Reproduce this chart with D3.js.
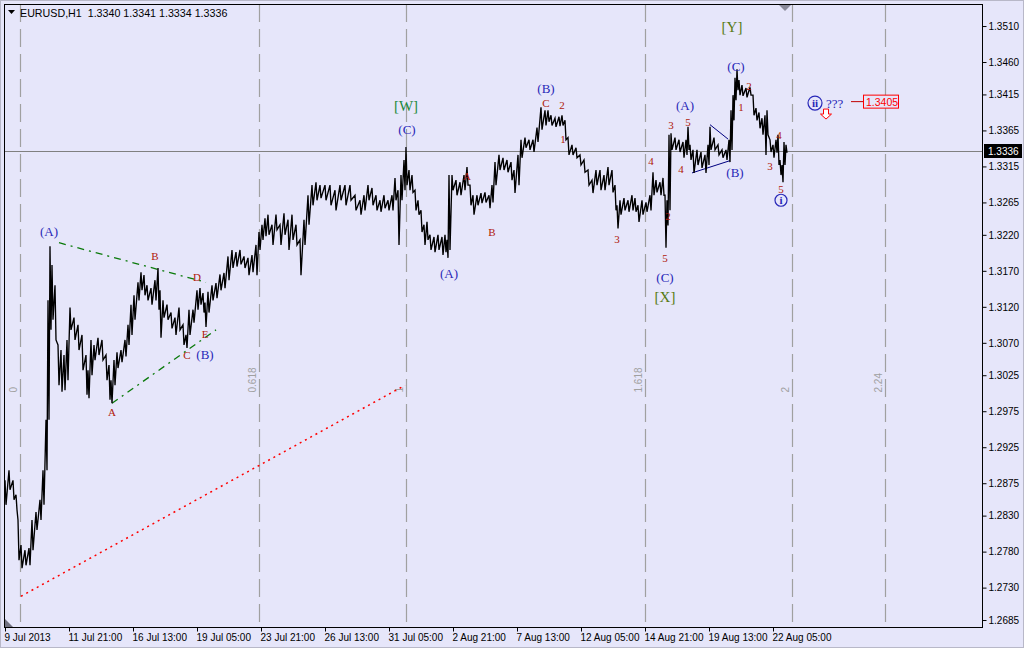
<!DOCTYPE html>
<html><head><meta charset="utf-8">
<script src="https://cdn.jsdelivr.net/npm/d3@7/dist/d3.min.js"></script>
<style>body{margin:0;background:#E6E6FA;}svg{display:block}</style>
</head><body>
<svg id="c" width="1024" height="648"></svg>
<script>
// ---------- DATA ----------
const symbol = "EURUSD,H1";
const headerOHLC = ["1.3340", "1.3341", "1.3334", "1.3336"];
const lastPrice = 1.3336;
const priceTicks = [1.3510,1.3460,1.3415,1.3365,1.3315,1.3265,1.3220,1.3170,1.3120,1.3070,1.3025,1.2975,1.2925,1.2875,1.2830,1.2780,1.2730,1.2685];
const timeTickBars = [0,64,128,192,256,320,384,448,512,576,640,704,768];
const timeTickLabels = ["9 Jul 2013","11 Jul 21:00","16 Jul 13:00","19 Jul 05:00","23 Jul 21:00","26 Jul 13:00","31 Jul 05:00","2 Aug 21:00","7 Aug 13:00","12 Aug 05:00","14 Aug 21:00","19 Aug 13:00","22 Aug 05:00"];

// bar index (H1 bars from 9 Jul 2013 00:00), high, low (sampled)
const barIdx = [0,4,8,11,13,16,20,24,27,31,35,38,41,43,45,
47,50,53,56,59,62,65,69,73,77,81,83,86,89,93,97,101,104,106,109,112,116,120,123,126,129,133,136,139,142,146,150,153,155,158,162,166,170,174,178,181,184,188,192,195,198,200,203,207,211,215,219,223,227,231,235,239,243,247,251,254,
257,260,263,267,271,275,279,283,287,291,295,299,303,307,311,315,320,325,330,335,340,345,350,355,359,363,367,371,375,379,383,387,390,393,396,399,
401,404,407,410,413,416,419,422,425,429,433,437,440,442,444,447,451,455,459,462,465,468,472,476,480,484,487,490,494,498,502,506,509,513,516,520,524,528,532,536,540,543,546,550,554,557,560,563,567,571,575,579,583,587,591,595,
599,603,607,610,612,615,619,623,627,630,633,637,641,645,648,651,655,658,660,662,664,666,670,674,678,681,683,685,688,692,696,700,703,705,709,713,717,721,724,726,728,730,732,734,737,741,745,748,751,754,757,760,762,765,768,771,773,775,777,779,781];
const highs = [1.2879,1.2893,1.2879,1.2859,1.2824,1.2789,1.2782,1.2785,1.2824,1.2835,1.2852,1.2893,1.2963,1.3129,1.3204,
1.3178,1.3150,1.3067,1.3060,1.3053,1.3074,1.3119,1.3105,1.3095,1.3081,1.3053,1.3032,1.3074,1.3067,1.3077,1.3074,1.3053,1.3039,1.3018,1.3046,1.3057,1.3060,1.3074,1.3095,1.3123,1.3136,1.3154,1.3168,1.3164,1.3150,1.3146,1.3157,1.3174,1.3143,1.3129,1.3123,1.3112,1.3105,1.3119,1.3095,1.3081,1.3116,1.3116,1.3143,1.3146,1.3139,1.3126,1.3141,1.3150,1.3153,1.3165,1.3167,1.3190,1.3199,1.3196,1.3199,1.3190,1.3188,1.3192,1.3206,1.3224,
1.3234,1.3243,1.3248,1.3234,1.3248,1.3234,1.3250,1.3241,1.3248,1.3234,1.3213,1.3241,1.3275,1.3289,1.3293,1.3289,1.3289,1.3289,1.3282,1.3289,1.3289,1.3289,1.3275,1.3268,1.3275,1.3289,1.3285,1.3275,1.3268,1.3275,1.3268,1.3275,1.3299,1.3282,1.3303,1.3324,
1.3342,1.3310,1.3303,1.3282,1.3268,1.3254,1.3234,1.3238,1.3220,1.3217,1.3220,1.3217,1.3220,1.3213,1.3303,1.3303,1.3296,1.3293,1.3303,1.3314,1.3289,1.3275,1.3275,1.3278,1.3279,1.3275,1.3289,1.3321,1.3331,1.3327,1.3324,1.3321,1.3310,1.3331,1.3352,1.3355,1.3352,1.3352,1.3369,1.3397,1.3393,1.3393,1.3386,1.3382,1.3384,1.3386,1.3379,1.3355,1.3345,1.3341,1.3331,1.3324,1.3310,1.3296,1.3310,1.3310,
1.3303,1.3314,1.3310,1.3289,1.3261,1.3268,1.3271,1.3268,1.3275,1.3271,1.3261,1.3268,1.3265,1.3275,1.3307,1.3296,1.3293,1.3299,1.3275,1.3268,1.3359,1.3361,1.3355,1.3352,1.3349,1.3352,1.3370,1.3345,1.3338,1.3338,1.3335,1.3331,1.3345,1.3370,1.3355,1.3345,1.3338,1.3338,1.3352,1.3393,1.3414,1.3438,1.3450,1.3435,1.3428,1.3424,1.3425,1.3414,1.3396,1.3390,1.3382,1.3386,1.3393,1.3352,1.3345,1.3352,1.3359,1.3324,1.3317,1.3349,1.3345];
const lows = [1.2845,1.2866,1.2852,1.2838,1.2768,1.2757,1.2761,1.2761,1.2782,1.2810,1.2824,1.2845,1.2893,1.2963,1.3088,
1.3102,1.3074,1.3011,1.3002,1.3004,1.3018,1.3088,1.3074,1.3060,1.3032,1.2998,1.2993,1.3025,1.3046,1.3053,1.3046,1.3018,1.2991,1.2986,1.3011,1.3035,1.3043,1.3051,1.3067,1.3081,1.3102,1.3129,1.3143,1.3136,1.3129,1.3123,1.3129,1.3116,1.3077,1.3105,1.3102,1.3090,1.3081,1.3088,1.3067,1.3063,1.3081,1.3098,1.3116,1.3123,1.3112,1.3092,1.3112,1.3129,1.3132,1.3143,1.3146,1.3157,1.3174,1.3176,1.3179,1.3174,1.3164,1.3168,1.3164,1.3199,
1.3213,1.3218,1.3220,1.3206,1.3227,1.3206,1.3220,1.3199,1.3213,1.3206,1.3164,1.3206,1.3234,1.3261,1.3268,1.3271,1.3268,1.3261,1.3254,1.3268,1.3261,1.3268,1.3254,1.3248,1.3254,1.3268,1.3261,1.3254,1.3252,1.3257,1.3254,1.3254,1.3268,1.3206,1.3268,1.3282,
1.3289,1.3282,1.3279,1.3254,1.3248,1.3224,1.3206,1.3213,1.3199,1.3196,1.3199,1.3192,1.3196,1.3188,1.3199,1.3282,1.3275,1.3275,1.3282,1.3289,1.3261,1.3248,1.3261,1.3264,1.3265,1.3257,1.3265,1.3289,1.3310,1.3310,1.3307,1.3296,1.3278,1.3289,1.3327,1.3341,1.3338,1.3335,1.3349,1.3366,1.3372,1.3377,1.3372,1.3370,1.3371,1.3372,1.3352,1.3331,1.3331,1.3327,1.3317,1.3307,1.3289,1.3278,1.3289,1.3282,
1.3282,1.3289,1.3279,1.3254,1.3229,1.3248,1.3254,1.3252,1.3254,1.3252,1.3238,1.3248,1.3252,1.3254,1.3275,1.3279,1.3275,1.3275,1.3202,1.3233,1.3254,1.3338,1.3338,1.3335,1.3327,1.3331,1.3338,1.3324,1.3306,1.3317,1.3313,1.3306,1.3317,1.3338,1.3338,1.3331,1.3327,1.3324,1.3321,1.3338,1.3379,1.3407,1.3421,1.3414,1.3413,1.3411,1.3414,1.3386,1.3379,1.3368,1.3359,1.3331,1.3359,1.3335,1.3327,1.3334,1.3317,1.3303,1.3293,1.3317,1.3334];

// Fibonacci time zones
const fibRatios = [0, 0.618, 1, 1.618, 2, 2.24];
const fibLabels = ["0", "0.618", "1", "1.618", "2", "2.24"];
const fibBaseBar = 15, fibSpanBars = 386;

// Trend lines [bar1, price1, bar2, price2]
const triangleUpper = [54, 1.3209, 201, 1.3154];
const triangleLower = [107, 1.2986, 211, 1.3088];
const redDotted = [16, 1.2718, 400, 1.3011];
const navyLines = [[687, 1.3306, 725, 1.3323], [705, 1.3373, 723, 1.3353]];

// Wave labels: text, bar, price, kind
const waveText  = ["(A)","B","D","E","C","(B)","A","[W]","(C)","A","B","(A)","(B)","C","2","1","3","4","2","5","(C)","[X]","(A)","3","5","4","(B)","[Y]","(C)","1","2","4","3","5"];
const waveBar   = [44,150,192,200,182,200,107,401,402,462,487,444,541,541,557,558,612,646,663,660,660,660,680,666,683,676,730,727,731,736,744,774,765,776];
const wavePrice = [1.3225,1.3191,1.3161,1.3082,1.3053,1.3054,1.2974,1.3399,1.3366,1.3302,1.3224,1.3167,1.3423,1.3403,1.3400,1.3353,1.3214,1.3323,1.3246,1.3188,1.3161,1.3134,1.3400,1.3372,1.3377,1.3311,1.3307,1.3509,1.3454,1.3397,1.3427,1.3359,1.3316,1.3284];
const waveKind  = ["blue","red","red","red","red","blue","red","w","blue","red","red","blue","blue","red","red","red","red","red","red","red","blue","x","blue","red","red","red","blue","x","blue","red","red","red","red","red"];
const circledText = ["i", "ii"];
const circledBar = [776, 810];
const circledPrice = [1.3268, 1.3403];
const questionText = "???";
const targetPrice = 1.3405;
const targetBar = 810;

// ---------- CHART ----------
const svg = d3.select("#c");
const L = 4, R = 982, T = 4, B = 627;
const x = d3.scaleLinear().domain([-1, 977]).range([L, R]);
const y = d3.scaleLinear().domain([1.26753, 1.35406]).range([B, T]);
const AX = "Liberation Sans, Arial, sans-serif";
const SERIF = "Liberation Serif, Times New Roman, serif";

svg.append("rect").attr("width",1024).attr("height",648).attr("fill","#E6E6FA");
svg.append("rect").attr("x",0.5).attr("y",0.5).attr("width",1023).attr("height",647).attr("fill","none").attr("stroke","#b8b8c8");

// Fib time zones
const fibG = svg.append("g");
fibRatios.forEach((r,i)=>{
  const xb = Math.round(x(fibBaseBar + r*fibSpanBars)) + 0.5;
  fibG.append("line").attr("x1",xb).attr("x2",xb).attr("y1",T).attr("y2",B)
    .attr("stroke","#a0a0a0").attr("stroke-width",1.2).attr("stroke-dasharray","18,7");
  fibG.append("text").attr("transform",`translate(${xb-4},${y(1.3001)}) rotate(-90)`)
    .attr("font-family",AX).attr("font-size",10).attr("fill","#a0a0a0").text(fibLabels[i]);
});

// current price line
svg.append("line").attr("x1",L).attr("x2",R).attr("y1",Math.round(y(lastPrice))+0.5).attr("y2",Math.round(y(lastPrice))+0.5)
  .attr("stroke","#808080").attr("stroke-width",1);

// red dotted line
svg.append("line").attr("x1",x(redDotted[0])).attr("y1",y(redDotted[1])).attr("x2",x(redDotted[2])).attr("y2",y(redDotted[3]))
  .attr("stroke","#ff0000").attr("stroke-width",1.5).attr("stroke-dasharray","2,4");

// triangle lines
[triangleUpper, triangleLower].forEach(t=>{
  svg.append("line").attr("x1",x(t[0])).attr("y1",y(t[1])).attr("x2",x(t[2])).attr("y2",y(t[3]))
    .attr("stroke","#0a7a0a").attr("stroke-width",1.3).attr("stroke-dasharray","7,5,2,5");
});
navyLines.forEach(t=>{
  svg.append("line").attr("x1",x(t[0])).attr("y1",y(t[1])).attr("x2",x(t[2])).attr("y2",y(t[3]))
    .attr("stroke","#000080").attr("stroke-width",1);
});

// price trace
let d = "";
barIdx.forEach((b,i)=>{
  d += (i===0?"M":"L") + x(b) + "," + y(highs[i]) + "L" + (x(b)+1) + "," + y(lows[i]);
});
svg.append("path").attr("d",d).attr("fill","none").attr("stroke","#000").attr("stroke-width",1.35).attr("stroke-linejoin","miter");

// frame / axes
svg.append("line").attr("x1",L).attr("x2",R).attr("y1",T+0.5).attr("y2",T+0.5).attr("stroke","#000");
svg.append("line").attr("x1",L+0.5).attr("x2",L+0.5).attr("y1",T).attr("y2",B).attr("stroke","#000");
svg.append("line").attr("x1",R+0.5).attr("x2",R+0.5).attr("y1",T).attr("y2",B+1).attr("stroke","#000");
svg.append("line").attr("x1",L).attr("x2",R+1).attr("y1",B+0.5).attr("y2",B+0.5).attr("stroke","#000");

// right axis
const yAxis = d3.axisRight(y).tickValues(priceTicks).tickFormat(d3.format(".4f")).tickSize(4).tickPadding(2);
const ya = svg.append("g").attr("transform",`translate(${R+0.5},0)`).call(yAxis);
ya.select(".domain").remove();
ya.selectAll("text").attr("font-family",AX).attr("font-size",10).attr("fill","#000");
ya.selectAll("line").attr("stroke","#000");

// bottom axis
const xAxis = d3.axisBottom(x).tickValues(timeTickBars).tickFormat((d,i)=>timeTickLabels[i]).tickSize(4).tickPadding(2);
const xa = svg.append("g").attr("transform",`translate(0,${B+0.5})`).call(xAxis);
xa.select(".domain").remove();
xa.selectAll("text").attr("text-anchor","start").attr("dx",-1).attr("font-family",AX).attr("font-size",10).attr("fill","#000");
xa.selectAll("line").attr("stroke","#000");

// last price label
const ly = Math.round(y(lastPrice));
svg.append("rect").attr("x",R+2).attr("y",ly-7).attr("width",38).attr("height",14).attr("fill","#000");
svg.append("text").attr("x",R+6).attr("y",ly+4).attr("font-family",AX).attr("font-size",10).attr("fill","#fff").text(d3.format(".4f")(lastPrice));

// header
svg.append("path").attr("d","M8,10 L15,10 L11.5,14 Z").attr("fill","#000");
svg.append("text").attr("x",20).attr("y",17).attr("font-family",AX).attr("font-size",10.7).attr("fill","#000")
  .attr("xml:space","preserve").text(symbol + "  " + headerOHLC.join(" "));

// chart-shift marker and corner marker
svg.append("path").attr("d",`M${R-203},${T+1} L${R-191},${T+1} L${R-197},${T+7} Z`).attr("fill","#8a8a9a");
svg.append("path").attr("d",`M${L+1},${B-8} L${L+1},${B} L${L+9},${B} Z`).attr("fill","#707080");

// wave labels
const kindStyle = {
  blue: {fill:"#2828b8", size:13},
  red:  {fill:"#b01808", size:11},
  w:    {fill:"#1d8a3c", size:15},
  x:    {fill:"#577a12", size:15}
};
waveText.forEach((t,i)=>{
  const s = kindStyle[waveKind[i]];
  svg.append("text").attr("x",x(waveBar[i])).attr("y",y(wavePrice[i])).attr("dy","0.35em")
    .attr("text-anchor","middle").attr("font-family",SERIF).attr("font-size",s.size).attr("fill",s.fill).text(t);
});
circledText.forEach((t,i)=>{
  const cx = x(circledBar[i]), cy = y(circledPrice[i]);
  svg.append("circle").attr("cx",cx).attr("cy",cy).attr("r",t.length>1?7:6).attr("fill","none").attr("stroke","#2828b8").attr("stroke-width",1.2);
  svg.append("text").attr("x",cx).attr("y",cy).attr("dy","0.35em").attr("text-anchor","middle")
    .attr("font-family",SERIF).attr("font-weight","bold").attr("font-size",11).attr("fill","#2828b8").text(t);
});
// ??? and target
const qy = y(circledPrice[1]);
svg.append("text").attr("x",x(targetBar)+11).attr("y",qy).attr("dy","0.35em").attr("font-family",SERIF).attr("font-size",13).attr("fill","#2828b8").text(questionText);
const ty = y(targetPrice);
svg.append("line").attr("x1",x(targetBar)+36).attr("x2",x(targetBar)+48).attr("y1",ty).attr("y2",ty).attr("stroke","#c00000");
svg.append("rect").attr("x",x(targetBar)+48.5).attr("y",ty-6.5).attr("width",35).attr("height",13).attr("fill","#E6E6FA").attr("stroke","#ff0000");
svg.append("text").attr("x",x(targetBar)+51).attr("y",ty+4).attr("font-family",AX).attr("font-size",10.5).attr("fill","#ff0000").text(d3.format(".4f")(targetPrice));
// red hollow down arrow
const ax0 = x(targetBar)+11, ay0 = qy+6;
svg.append("path").attr("d",`M${ax0-2.5},${ay0} L${ax0+2.5},${ay0} L${ax0+2.5},${ay0+5} L${ax0+5.5},${ay0+5} L${ax0},${ay0+10} L${ax0-5.5},${ay0+5} L${ax0-2.5},${ay0+5} Z`)
  .attr("fill","#fff").attr("stroke","#ff0000").attr("stroke-width",1);
</script>
</body></html>
